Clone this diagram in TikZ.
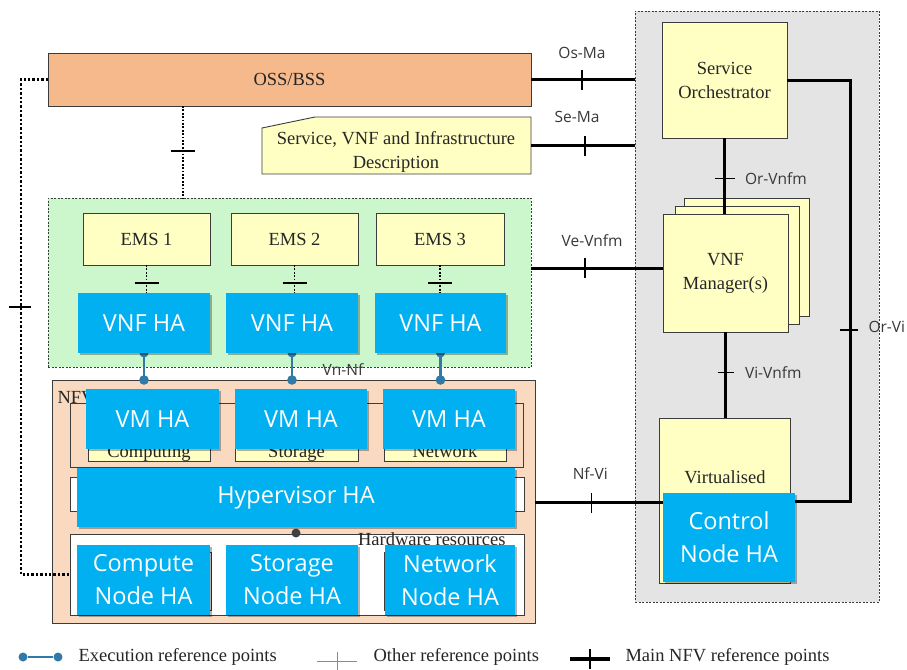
\documentclass[tikz,border=0pt]{standalone}
\usepackage{fontspec}
\setmainfont{Liberation Serif}
\newfontfamily\labelfont{Open Sans}
\usetikzlibrary{calc,shadows}
\pgfdeclarelayer{back}
\pgfdeclarelayer{mid}
\pgfsetlayers{back,mid,main}

\definecolor{ossfill}{HTML}{F6B98B}
\definecolor{yel}{HTML}{FFFFC4}
\definecolor{grn}{HTML}{CCF7CC}
\definecolor{peach}{HTML}{F9D9C0}
\definecolor{manogray}{HTML}{E4E4E4}
\definecolor{habl}{HTML}{00B0F0}
\definecolor{execc}{HTML}{2F7AA6}
\definecolor{edge}{HTML}{3C3C3C}

\begin{document}
\begin{tikzpicture}[x=1pt,y=-1pt,
  sz/.style 2 args={minimum width=#1pt,minimum height=#2pt},
  plain/.style={rectangle,inner sep=0pt,outer sep=0pt,draw=edge,line width=0.9pt},
  serif/.style={font=\fontsize{18.5}{24}\selectfont,text=black!85},
  yelbox/.style={plain,fill=yel,serif,align=center},
  habox/.style={rectangle,inner sep=0pt,outer sep=0pt,fill=habl,text=white,
    font=\labelfont\fontsize{23.5}{33}\selectfont,align=center,
    drop shadow={shadow xshift=1.5pt,shadow yshift=-1.5pt,opacity=0.3,fill=black}},
  container/.style={rectangle,inner sep=0pt,outer sep=0pt,draw=edge,line width=0.8pt,
    dash pattern=on 2pt off 1.5pt},
  mainref/.style={line width=3pt,black},
  maintick/.style={line width=1.3pt,black},
  otherref/.style={line width=1.8pt,dash pattern=on 1.8pt off 1.6pt},
  otherthick/.style={line width=2.4pt,dash pattern=on 2.4pt off 2pt},
  othertick/.style={line width=1.6pt},
  execref/.style={line width=2.6pt,execc},
  ptlabel/.style={font=\labelfont\fontsize{15.5}{18}\selectfont,text=black!78},
]
\useasboundingbox (0,0) rectangle (907,669);

% ---- containers ----
\begin{pgfonlayer}{back}
  \fill[white] (0,0) rectangle (907,669);
  \node[container,sz={244}{591},fill=manogray] (mano) at (757,306.5) {};
  \node[container,sz={483}{169},fill=grn] (vnfdom) at (289.5,282.5) {};
  \node[plain,sz={483}{243},fill=peach] (nfvi) at (293.5,501.5) {};
\end{pgfonlayer}

% ---- OSS/BSS and descriptors ----
\node[plain,sz={483}{53},fill=ossfill,serif] (oss) at (289.5,79.5) {OSS/BSS};
\node[inner sep=0pt,outer sep=0pt,sz={269}{57}] (desc) at (396.5,145.5) {};
\filldraw[fill=yel,draw=edge,line width=0.9pt]
  (desc.south west) -- ($(desc.north west)+(0,11)$) -- ($(desc.north west)+(53,0)$)
  -- (desc.north east) -- (desc.south east) -- cycle;
\node[serif,align=center] (desctext) at (396,151.5) {Service, VNF and Infrastructure\\Description};

% ---- VNF domain ----
\node[yelbox,sz={127}{52}] (ems1) at (146.5,239) {EMS 1};
\node[yelbox,sz={127}{52}] (ems2) at (294.5,239) {EMS 2};
\node[yelbox,sz={128}{52}] (ems3) at (440,239) {EMS 3};
\node[habox,sz={132}{60}] (vnf1) at (144,323) {VNF HA};
\node[habox,sz={132}{60}] (vnf2) at (292,323) {VNF HA};
\node[habox,sz={131}{60}] (vnf3) at (440.5,323) {VNF HA};

% ---- NFVI ----
\node[serif,anchor=west] (nfvilbl) at (54,398) {NFVI};
\node[plain,sz={453}{64}] (vres) at (296.5,435) {};
\node[plain,sz={122}{29},fill=yel] (vcomp) at (149,446.5) {};
\node[plain,sz={123}{29},fill=yel] (vstor) at (296.5,446.5) {};
\node[plain,sz={122}{29},fill=yel] (vnet) at (445,446.5) {};
\node[serif,anchor=base] (vcomplbl) at ($(vcomp.south)+(0,-4)$) {Computing};
\node[serif,anchor=base] (vstorlbl) at ($(vstor.south)+(0,-4)$) {Storage};
\node[serif,anchor=base] (vnetlbl) at ($(vnet.south)+(0,-4)$) {Network};
\node[habox,sz={133}{60}] (vm1) at (152.5,419) {VM HA};
\node[habox,sz={132}{60}] (vm2) at (301,419) {VM HA};
\node[habox,sz={132}{60}] (vm3) at (449,419) {VM HA};

\node[plain,sz={454}{34},fill=white] (virtlayer) at (297,494) {};
\node[habox,sz={438}{59}] (hyp) at (296,497.5) {Hypervisor HA};

\node[plain,sz={454}{81},fill=white] (hw) at (297,574.5) {};
\node[serif,anchor=east] (hwlbl) at (509,539) {Hardware resources};
\node[plain,sz={131}{58},fill=white] (hwc) at (145.5,581) {};
\node[plain,sz={126}{58},fill=white] (hwn) at (447,581) {};
\node[habox,sz={133}{70}] (cnode) at (143.5,580) {Compute\\Node HA};
\node[habox,sz={132}{70}] (snode) at (292,580) {Storage\\Node HA};
\node[habox,sz={130}{70}] (nnode) at (450,580) {Network\\Node HA};
\node[circle,fill=black!75,inner sep=0pt,minimum size=9pt] (hwdot) at ($(hyp.south)+(0,6)$) {};

% ---- MANO ----
\node[yelbox,sz={125}{116}] (so) at (724.5,80) {Service\\Orchestrator};
\node[yelbox,sz={125}{118}] (vnfmc) at (746.5,257) {};
\node[yelbox,sz={124}{118}] (vnfmb) at (737,265) {};
\node[yelbox,sz={125}{118}] (vnfm) at (725.5,273) {VNF\\Manager(s)};
\node[yelbox,sz={131}{165}] (vim) at (724.5,500.5) {};
\node[serif] (vimlbl) at (725,477) {Virtualised};
\node[habox,sz={132}{89}] (ctrl) at (729,537.5) {Control\\Node HA};

% ---- main NFV reference points ----
\draw[mainref] (oss.east) -- (oss.east -| mano.west) coordinate[pos=0.49] (osma);
\draw[maintick] (osma) +(0,-10) -- +(0,10);
\node[ptlabel] (osmalbl) at ($(osma)+(0,-26.5)$) {Os-Ma};

\draw[mainref] (desc.east) -- (desc.east -| mano.west) coordinate[pos=0.52] (sema);
\draw[maintick] (sema) +(0,-10) -- +(0,10);
\node[ptlabel] (semalbl) at ($(sema)+(-8,-28.5)$) {Se-Ma};

\coordinate (vevnfmE) at ($(vnfm.north west)!0.46!(vnfm.south west)$);
\draw[mainref] (vevnfmE -| vnfdom.east) -- (vevnfmE) coordinate[pos=0.41] (vevnfm);
\draw[maintick] (vevnfm) +(0,-10) -- +(0,10);
\node[ptlabel] (vevnfmlbl) at ($(vevnfm)+(7,-28)$) {Ve-Vnfm};

\draw[mainref] (so.south) -- (so.south |- vnfm.north) coordinate[pos=0.53] (orvnfm);
\draw[maintick] (orvnfm) +(-10,0) -- +(10,0);
\node[ptlabel,anchor=west] (orvnfmlbl) at ($(orvnfm)+(17,0)$) {Or-Vnfm};

\draw[mainref] (vnfm.south) -- (vnfm.south |- vim.north) coordinate[pos=0.47] (vivnfm);
\draw[maintick] (vivnfm) +(-8,0) -- +(8,0);
\node[ptlabel,anchor=west] (vivnfmlbl) at ($(vivnfm)+(16,0)$) {Vi-Vnfm};

\coordinate (orvi) at (850,330);
\coordinate (ctrlE) at ($(ctrl.north east)!0.09!(ctrl.south east)$);
\draw[mainref] (so.east) -| (orvi) |- (ctrlE);
\draw[maintick] (orvi) +(-10,0) -- +(8,0);
\node[ptlabel,anchor=west] (orvilbl) at ($(orvi)+(15,-3)$) {Or-Vi};

\coordinate (ctrlW) at ($(ctrl.north west)!0.11!(ctrl.south west)$);
\draw[mainref] (ctrlW -| nfvi.east) -- (ctrlW) coordinate[pos=0.44] (nfvipt);
\draw[maintick] (nfvipt) +(0,-10) -- +(0,10);
\node[ptlabel] (nfvilbl2) at ($(nfvipt)+(-1,-29)$) {Nf-Vi};

% ---- other reference points ----
\coordinate (ossS) at ($(oss.south west)!0.28!(oss.south east)$);
\draw[otherref] (ossS) -- (ossS |- vnfdom.north) coordinate[pos=0.49] (osst);
\draw[othertick] (osst) +(-12,0) -- +(12,0);

\coordinate (leftbend) at (21,307);
\draw[otherthick] (oss.west) -| (leftbend) |- (hw.west);
\draw[line width=1.1pt] (leftbend) +(-12,0) -- +(10,0);

\foreach \i in {1,2,3}{
  \draw[otherref] (ems\i.south) -- (ems\i.south |- vnf\i.north) coordinate[pos=0.64] (emst\i);
  \draw[othertick,line width=2pt] (emst\i) +(-12,0) -- +(12,0);
}

% ---- execution reference points ----
\begin{pgfonlayer}{mid}
  \foreach \i in {1,2,3}{
    \draw[execref] (vnf\i.south) -- (vnf\i.south |- nfvi.north);
    \fill[execc] (vnf\i.south) circle (4.5);
    \fill[execc] (vnf\i.south |- nfvi.north) circle (4.8);
  }
\end{pgfonlayer}
\node[ptlabel] (vnnflbl) at ($(vnf2.south)+(51,17)$) {Vn-Nf};

% ---- legend ----
\node[circle,fill=execc,inner sep=0pt,minimum size=9pt] (lgA) at (23,657) {};
\node[circle,fill=execc,inner sep=0pt,minimum size=9pt] (lgB) at (58,657) {};
\draw[execref] (lgA) -- (lgB);
\node[serif,anchor=west] (lgexec) at (75,657) {Execution reference points};

\coordinate (lgO1) at (317,661);
\coordinate (lgO2) at (357,661);
\draw[black!45,line width=0.8pt] (lgO1) -- (lgO2);
\draw[black!45,line width=0.8pt] ($(lgO1)!0.5!(lgO2)$) +(0,-9) -- +(0,9);
\node[serif,anchor=west] (lgother) at (370,657) {Other reference points};

\coordinate (lgM1) at (570,659);
\coordinate (lgM2) at (610,659);
\draw[mainref,line width=4pt] (lgM1) -- (lgM2);
\draw[maintick] ($(lgM1)!0.5!(lgM2)$) +(0,-10) -- +(0,10);
\node[serif,anchor=west] (lgmain) at (622,657) {Main NFV reference points};
\end{tikzpicture}
\end{document}
